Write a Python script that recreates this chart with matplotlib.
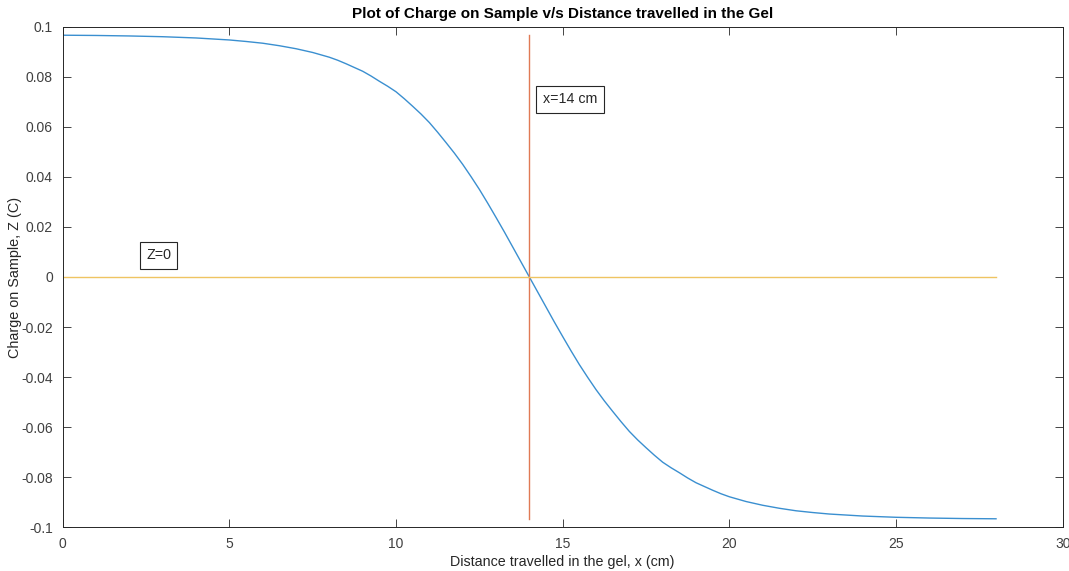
import matplotlib.pyplot as plt

plt.rcParams['font.family'] = ['Liberation Sans', 'DejaVu Sans']

# distance travelled (cm) and charge (C)
distance = [0, 1, 2, 3, 4, 5, 5.5, 6, 6.5, 7, 7.5, 8,
            8.25, 8.5, 8.75, 9, 9.25, 9.5, 9.75, 10, 10.25, 10.5, 10.75, 11,
            11.25, 11.5, 11.75, 12, 12.25, 12.5, 12.75, 13, 13.25, 13.5, 13.75, 14,
            14.25, 14.5, 14.75, 15, 15.25, 15.5, 15.75, 16, 16.25, 16.5, 16.75, 17,
            17.25, 17.5, 17.75, 18, 18.25, 18.5, 18.75, 19, 19.25, 19.5, 19.75, 20,
            20.5, 21, 21.5, 22, 22.5, 23, 24, 25, 26, 27, 28]
charge = [0.0966, 0.0965, 0.0963, 0.0960, 0.0955, 0.0947, 0.0941, 0.0934, 0.0924, 0.0912, 0.0897, 0.0878,
          0.0866, 0.0852, 0.0837, 0.0822, 0.0803, 0.0782, 0.0762, 0.0740, 0.0712, 0.0682, 0.0651, 0.0617,
          0.0578, 0.0537, 0.0495, 0.0450, 0.0401, 0.0350, 0.0295, 0.0238, 0.0180, 0.0120, 0.0060, 0.0,
          -0.0060, -0.0120, -0.0180, -0.0238, -0.0295, -0.0350, -0.0401, -0.0450, -0.0495, -0.0537, -0.0578, -0.0617,
          -0.0651, -0.0682, -0.0712, -0.0740, -0.0762, -0.0782, -0.0803, -0.0822, -0.0837, -0.0852, -0.0866, -0.0878,
          -0.0897, -0.0912, -0.0924, -0.0934, -0.0941, -0.0947, -0.0955, -0.0960, -0.0963, -0.0965, -0.0966]

# reference lines
x_mark = 14
vline_y = [-0.0966, 0.0966]
zero_x = [0, 28]
zero_y = [0, 0]

xticks = [0, 5, 10, 15, 20, 25, 30]
yticks = [-0.1, -0.08, -0.06, -0.04, -0.02, 0, 0.02, 0.04, 0.06, 0.08, 0.1]
ytick_labels = ['-0.1', '-0.08', '-0.06', '-0.04', '-0.02', '0', '0.02', '0.04', '0.06', '0.08', '0.1']

dark = '#262626'

fig = plt.figure(figsize=(10.69, 5.71), dpi=100)
ax = fig.add_axes([62.7 / 1069, 1 - 527.3 / 571, 1000 / 1069, 500.6 / 571])

ax.plot(distance, charge, color='#3a8fd0', lw=1.0)
ax.plot([x_mark, x_mark], vline_y, color='#e07a55', lw=1.0)
ax.plot(zero_x, zero_y, color='#efc462', lw=1.0)

ax.set_xlim(0, 30)
ax.set_ylim(-0.1, 0.1)
ax.set_xticks(xticks)
ax.set_xticklabels([str(t) for t in xticks])
ax.set_yticks(yticks)
ax.set_yticklabels(ytick_labels)
ax.tick_params(direction='in', length=6, width=0.6, colors=dark, labelsize=10,
               top=True, right=True, pad=7)
ax.tick_params(axis='both', labelcolor='#404040')
for s in ax.spines.values():
    s.set_color(dark)
    s.set_linewidth(0.7)

box = dict(boxstyle='square,pad=0.45', fc='white', ec=dark, lw=0.8)
ax.text(14.4, 0.071, 'x=14 cm', fontsize=10.3, va='center', ha='left', color=dark, bbox=box)
ax.text(2.5, 0.0086, 'Z=0', fontsize=10.3, va='center', ha='left', color=dark, bbox=box)

ax.set_xlabel('Distance travelled in the gel, x (cm)', fontsize=10.3, color=dark)
ax.xaxis.set_label_coords(0.5, -0.055)
ax.set_ylabel('Charge on Sample, Z (C)', fontsize=10.4, color=dark)
ax.yaxis.set_label_coords(-0.041, 0.5)
ax.set_title('Plot of Charge on Sample v/s Distance travelled in the Gel',
             fontsize=11, fontweight='bold', color='black', pad=6)

fig.savefig('out.png', dpi=100)
